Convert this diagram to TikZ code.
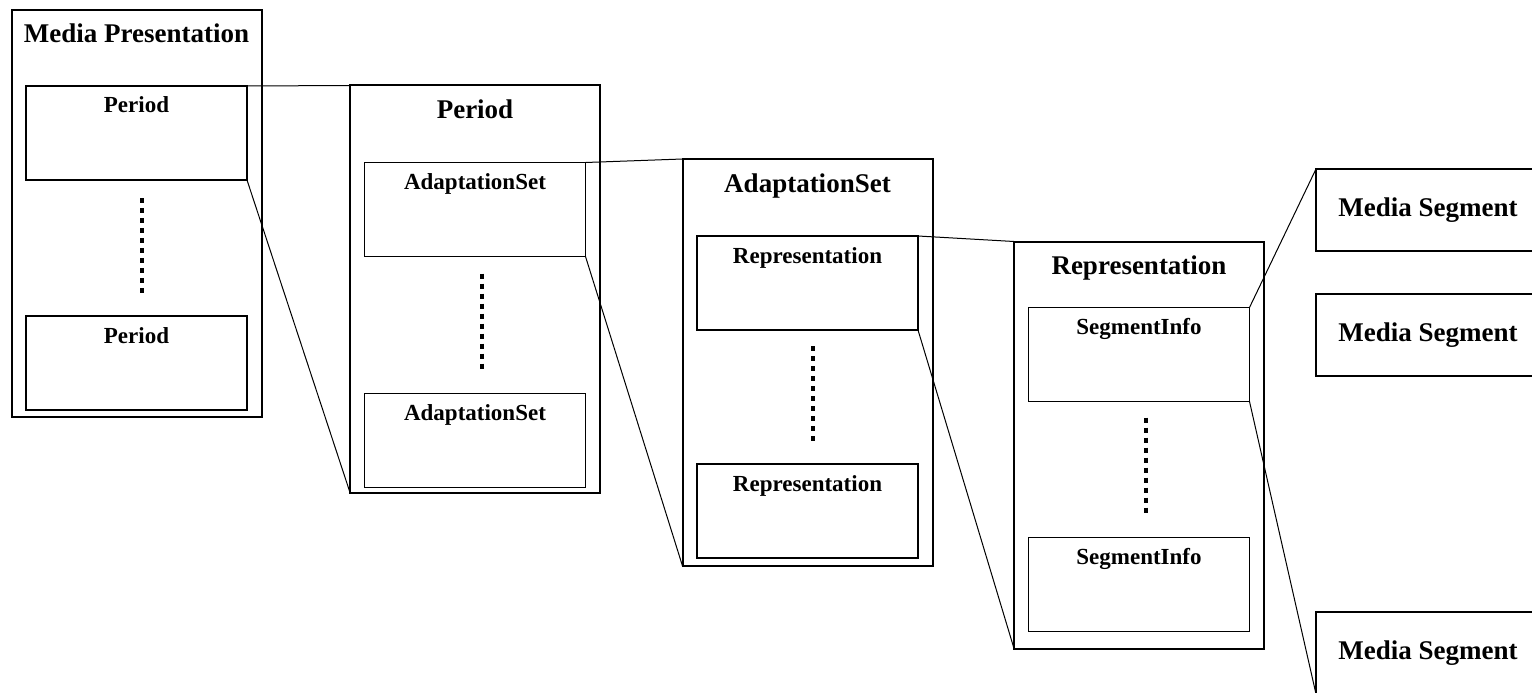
\documentclass[tikz,border=0pt]{standalone}
\usepackage{fontspec}
\setmainfont{Liberation Serif}
\usetikzlibrary{positioning}

\begin{document}
\begin{tikzpicture}[x=1pt, y=1pt,
every node/.style = {inner sep=0pt, outer sep=0pt, draw=black},
outerbox/.style = {line width=2pt, minimum width=250pt,
  text height=33pt, text depth=374pt, font=\fontsize{27}{30}\bfseries},
innerbox/.style = {line width=1.3pt, minimum width=221pt,
  text height=27pt, text depth=67pt, font=\fontsize{23}{26}\bfseries},
segbox/.style = {line width=1.5pt, minimum width=224pt, minimum height=82pt,
  font=\fontsize{27}{30}\bfseries},
link/.style = {line width=1pt},
dotline/.style = {line width=3.5pt, dash pattern=on 5pt off 5pt} ]
\useasboundingbox (0,0) rectangle (1532,-693);
\clip (0,0) rectangle (1532,-693);

\node[outerbox] (mp) at (136.5,-213.5) {Media Presentation};
\node[innerbox, below=76pt of mp.north] (mp1) {Period};
\node[innerbox, below=136pt of mp1] (mp2) {Period};
\draw[dotline] ([xshift=5.5pt,yshift=-18pt]mp1.south) -- ([xshift=5.5pt,yshift=22pt]mp2.north);

\node[outerbox] (per) at (475,-289) {Period};
\node[innerbox, below=77pt of per.north] (per1) {AdaptationSet};
\node[innerbox, below=137pt of per1] (per2) {AdaptationSet};
\draw[dotline] ([xshift=7pt,yshift=-17pt]per1.south) -- ([xshift=7pt,yshift=24pt]per2.north);

\node[outerbox] (ad) at (807.5,-362.5) {AdaptationSet};
\node[innerbox, below=77pt of ad.north] (ad1) {Representation};
\node[innerbox, below=134pt of ad1] (ad2) {Representation};
\draw[dotline] ([xshift=5.5pt,yshift=-16pt]ad1.south) -- ([xshift=5.5pt,yshift=20pt]ad2.north);

\node[outerbox] (rep) at (1139,-445) {Representation};
\node[innerbox, below=66pt of rep.north] (rep1) {SegmentInfo};
\node[innerbox, below=136pt of rep1] (rep2) {SegmentInfo};
\draw[dotline] ([xshift=7pt,yshift=-16pt]rep1.south) -- ([xshift=7pt,yshift=22pt]rep2.north);

\node[segbox] (ms1) at (1428,-210) {Media Segment};
\node[segbox] (ms2) at (1428,-335) {Media Segment};
\node[segbox] (ms3) at (1428,-653) {Media Segment};

\draw[link] (mp1.north east) -- (per.north west);
\draw[link] (mp1.south east) -- (per.south west);
\draw[link] (per1.north east) -- (ad.north west);
\draw[link] (per1.south east) -- (ad.south west);
\draw[link] (ad1.north east) -- (rep.north west);
\draw[link] (ad1.south east) -- (rep.south west);
\draw[link] (rep1.north east) -- (ms1.north west);
\draw[link] (rep1.south east) -- (ms3.south west);
\end{tikzpicture}
\end{document}
